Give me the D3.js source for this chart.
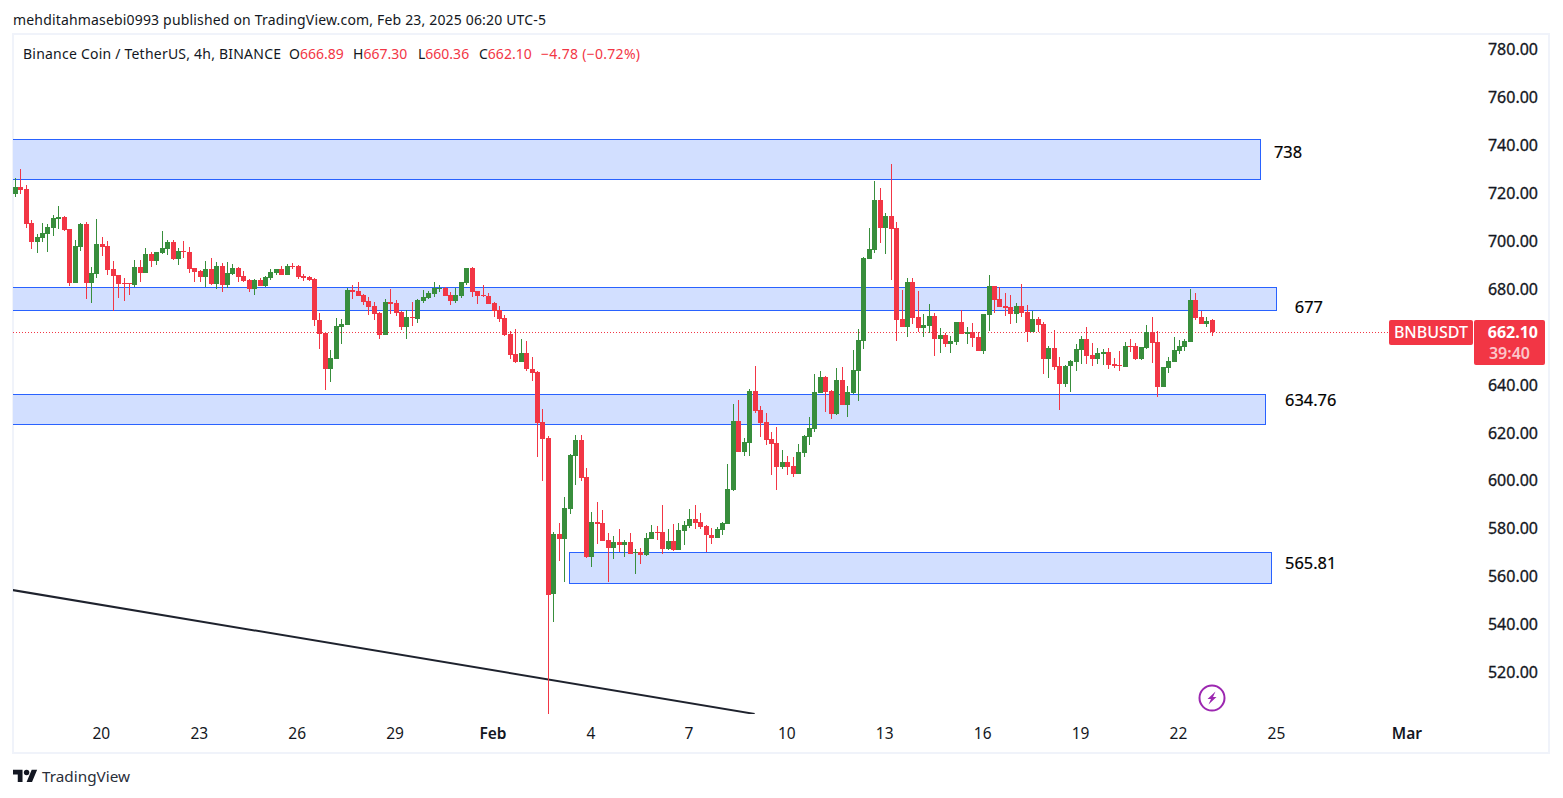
<!DOCTYPE html>
<html><head><meta charset="utf-8">
<script src="https://cdnjs.cloudflare.com/ajax/libs/d3/7.8.5/d3.min.js"></script>
<style>
html,body{margin:0;padding:0;background:#fff}
svg{display:block}
text{font-family:"Noto Sans","Open Sans",sans-serif}
</style></head><body>
<svg id="c" width="1563" height="798"></svg>
<script>
const opens=[719.5,722.4,721.6,707.4,699.5,701.1,702.8,705.3,709,709.9,
704.9,682.4,697.4,707,682.4,686.1,698.6,697.8,688.2,685.7,
682.4,682.3,681.5,689,686.5,694.5,691.5,694.9,696.5,699.5,
692.4,695.7,695.3,688.6,687.4,684.9,688.2,682,689.4,681.5,
686.1,688.6,685.3,683.6,679.8,683.6,681.1,684.4,686.5,688.2,
685.7,689.4,689.4,685.3,684.8,684,666.9,661.5,646.4,650.6,
664,664.8,679.4,679,677.3,674.8,672.7,669.8,660.6,674.4,
674,670.2,664,668.1,667.3,674.8,676,677.7,679.8,680.2,
677.3,674.8,676.9,682.3,688.6,679,677.3,676.9,674,671,
667.7,661,652.7,649.4,653.1,646.4,645.2,624.3,617.6,552.5,
577.6,575.5,588,610.1,616.8,601.4,568,582.6,582.2,575.1,
571.7,574.2,573,574.2,569.6,570,568.8,575.5,578.4,578.4,
571.3,574.7,570.9,578.8,580.9,583.8,582.6,580.9,577.2,575.9,
579.3,581.8,596,624.7,611.8,615.6,637.3,629.3,624.3,617.2,
615.6,605.5,607.6,606,602.6,611.4,618.1,621.4,636.4,643.1,
637.3,627.7,641.8,631.4,636.4,645.6,658.1,692.4,696.1,717,
705.3,710.3,705.3,667.3,664,682.8,668.1,663.6,664.4,668.6,
659,660.6,656.9,657.7,666,661,661.9,659.8,654,669,
681.1,675.7,672.7,672.3,669.4,672.7,670.2,661.9,667.3,665.2,
650.6,655.2,647.7,640.2,647.7,649.4,654.4,659,652.3,650.6,
652.7,653.5,648.5,648.1,647.3,656,656,650.6,655.2,661.9,
657.7,638.9,646.9,649.4,653.9,655.6,657.7,675.2,668.1,665.2,
666.89];
const closes=[722.4,721.2,707,699.5,701.5,703.2,705.7,709.5,709.9,704.5,
682.4,697.8,707,682.4,686.5,698.6,697.4,687.8,685.3,682,
682,682,689,686.5,694.5,691.5,695.3,697,699.5,692.4,
695.7,695.3,688.2,687,684.9,688.2,682,689.4,681.5,686.5,
688.6,684.9,683.2,679.8,683.6,681.1,684.9,686.9,688.2,685.7,
689.4,689,684.8,684.4,683.6,666.9,661,646.4,651,664.4,
665.2,679.4,678.6,676.9,674.4,672.3,669.4,660.6,674.4,673.6,
669.8,664,668.1,667.7,675.2,676.5,678.2,680.2,680.2,676.9,
674.8,677.3,682.8,688.6,678.6,676.9,676.9,673.6,670.6,667.3,
660.6,652.3,649.4,653.1,646.4,644.8,623.9,617.2,552.1,577.6,
575.5,588.4,610.6,616.8,601,568,582.6,581.8,574.7,571.7,
574.2,573,574.2,569.2,570,568.8,575.9,578.4,578,571.3,
574.7,570.9,579.3,581.3,583.8,582.2,580.5,577.2,575.9,579.7,
582.2,596.4,624.7,611.8,616,637.3,628.9,623.9,616.8,615.1,
605.5,607.6,605.5,602.6,611.8,618.5,621.8,636.8,643.1,636.8,
627.7,641.8,631.4,636.8,646,658.6,692.8,696.5,717,705.3,
710.3,704.9,666.9,664,682.8,667.7,663.6,664.8,668.6,659,
660.6,656.9,658.1,666,661,661.9,659.4,654,669.4,681.1,
675.2,672.3,671.9,669.4,672.7,669.8,661.9,667.3,664.8,650.6,
655.2,647.3,640.2,647.7,649.8,654.8,659,651.9,650.6,653.1,
653.5,648.1,647.7,647.7,656,655.6,650.6,655.6,661.9,657.3,
638.9,647.3,649.8,654.4,656,658.1,675.2,667.7,665.2,666.5,
662.10];
const highs=[726.2,729.9,723.2,708.6,702.8,707.4,707,710.7,714.5,710.3,
704.9,700.3,707.4,707.8,689,709,701.5,699.9,691.5,685.7,
684.4,682.4,692,692,697,695.3,695.3,704,700.3,700.3,
697,699.9,697.4,688.6,687.8,691.5,692.8,691.1,690.7,691.1,
690.3,689,687.4,684,684,684.4,685.3,688.2,688.2,689.4,
690.3,690.7,689.8,686.1,685.3,684.4,669.8,661.5,654.4,667.7,
667.3,680.2,681.5,682.8,677.7,676.5,674.4,670.2,675.7,679.8,
675.2,670.6,671,674.4,675.6,679.4,679,682.8,681.5,680.7,
678.6,680.2,682.8,688.6,689,679,681.5,678.2,674.4,672.7,
669,662.3,663.1,659,658.1,651.4,645.6,629.8,618.5,578.4,
582.2,593,611,618.9,618.9,605.1,586.8,591,587.6,578,
576.8,579.7,575.1,578,571.3,571.7,578,581.3,580.9,589.7,
579.7,581.8,582.2,583,588,589.7,586.3,581.3,580.1,580.5,
582.6,606.8,631.8,633.5,617.6,638.1,647.7,631,628.1,620.2,
622.2,612.6,610.1,609.7,615.1,618.9,626.4,644.4,645.6,643.5,
637.7,646.9,647.3,639.4,654.4,663.1,693.2,705.3,724.9,722,
711.6,732,707.8,679.4,684.4,684.4,679,669.4,673.6,669.8,
663.6,661.5,660.2,666,671,664,665.6,661.9,669.4,685.7,
681.1,680.7,678.2,677.3,674,681.9,673.2,670.7,668.1,666,
656,662.7,651.4,648.1,650.2,656.9,660.2,664,657.3,655.2,
654.8,655.2,651,654,657.7,659,657.3,655.6,664.8,668.1,
662.3,647.3,651.4,659.8,658.5,658.9,679.8,678.2,670.7,668.1,
667.30];
const lows=[718.2,719.5,705.3,696.5,694.9,699.5,695.3,702,704.9,704,
681.1,682.4,695.7,675.7,674,684.4,693.6,685.7,670.8,676.1,
674.9,677.4,680.7,682.8,686.5,689,689.9,694.4,694,692,
689.9,692.8,686.5,682.8,682.8,680.7,681.5,679.8,678.6,680.3,
685.7,682.8,682.8,678.6,677.4,681.1,680.7,683.6,685.7,685.7,
685.7,688.2,684,683.2,683.2,664.4,654.8,637.7,641,650.6,
656.9,664.8,675.7,676.9,673.2,669,666.9,659,660.6,669.4,
668.6,662.7,659,664.4,665.6,674,675.7,676.5,678.6,676.9,
673.2,674,676.1,681.5,676.5,673.6,676.5,673.6,668.1,666,
660.2,650.6,649,649.4,645.6,641.4,609.7,599.7,502.5,540.9,
566.3,557.5,586,598,599.7,567.6,563.8,573.4,574.7,557.5,
567.2,570,568,569.2,560.9,565,568.4,575.5,575.1,569.2,
570.9,570.5,570.9,573,580.1,579.7,579.7,570,573.4,575.9,
577.2,581.8,595.5,611.8,610.1,610.1,628.1,618.1,614.7,602.2,
595.9,604.7,602.2,601.4,602.6,609.7,614.7,620.2,636.4,628.5,
625.6,627.3,631.4,626.4,636,633.1,654.8,692.4,694.9,699,
694.4,683.6,658.1,664,659.8,665.2,661.9,659.8,661.5,651.9,
653.1,655.6,653.1,656.5,661,656.9,655.6,654,652.7,662.3,
669.8,672.3,668.6,665.2,665.6,668.1,657.7,661.9,661.9,644.4,
642.7,646,629.3,638.9,636.8,645.6,648.5,648.5,647.7,648.5,
648.1,646.4,646.9,645.6,647.3,653.5,650.2,650.2,654.8,649,
634.8,638.9,644.8,649.4,652.7,654,657.7,666.9,665.2,664,
660.36];

const zoneStart=[-3,-3,-3,101.8];
const zoneEnd=[228.9,231.8,229.8,230.9];
const zoneTop=[742.2,680.5,636,569.9];
const zoneBottom=[725.5,670.9,623.3,557];
const zoneLabels=["738","677","634.76","565.81"];
const zoneLabelBars=[231.47,235.3,233.5,233.5];
const zoneLabelPrices=[737,672.3,633.5,565.5];
const trendBars=[-0.4,136];
const trendPrices=[554.2,502.5];
const priceTicks=[520,540,560,580,600,620,640,680,700,720,740,760,780];
const timeBars=[16,34,52,70,88,106,124,142,160,178,196,214,232,256];
const timeLabels=["20","23","26","29","Feb","4","7","10","13","16","19","22","25","Mar"];
const lastPrice=662.10;
const symbol="BNBUSDT", countdown="39:40";
const publishLine="mehditahmasebi0993 published on TradingView.com, Feb 23, 2025 06:20 UTC-5";
const titleLine="Binance Coin / TetherUS, 4h, BINANCE";
const ohlcLetters=["O","H","L","C"];
const ohlcValues=["666.89","667.30","660.36","662.10"];
const changeText="\u22124.78 (\u22120.72%)";

const RED="#f23645",GREEN="#388e3c",BLUE="#2962ff",ZONE="#d2dfff",INK="#131722";
const svg=d3.select("#c");
const x=d3.scaleLinear().domain([0,220]).range([14.8,1211.6]);
const y=d3.scaleLinear().domain([520,780]).range([672,49]);

svg.append("rect").attr("x",13).attr("y",34).attr("width",1536).attr("height",719)
  .attr("fill","#fff").attr("stroke","#f0f3fa").attr("stroke-width",2);

const clip=svg.append("defs").append("clipPath").attr("id","pane");
clip.append("rect").attr("x",13).attr("y",35).attr("width",1376).attr("height",679);
const plot=svg.append("g").attr("clip-path","url(#pane)");

plot.selectAll("rect.zone").data(zoneTop).join("rect").attr("class","zone")
  .attr("x",(d,i)=>Math.round(x(zoneStart[i]))+.5)
  .attr("y",d=>Math.floor(y(d))+.5)
  .attr("width",(d,i)=>Math.round(x(zoneEnd[i]))-Math.round(x(zoneStart[i])))
  .attr("height",(d,i)=>Math.floor(y(zoneBottom[i]))-Math.floor(y(d)))
  .attr("fill",ZONE).attr("stroke",BLUE).attr("stroke-width",1);

plot.append("line").attr("x1",13).attr("x2",1389)
  .attr("y1",Math.round(y(lastPrice))+.5).attr("y2",Math.round(y(lastPrice))+.5)
  .attr("stroke",RED).attr("stroke-width",1).attr("stroke-dasharray","1 2");

plot.append("line").attr("x1",x(trendBars[0])).attr("x2",x(trendBars[1]))
  .attr("y1",y(trendPrices[0])).attr("y2",y(trendPrices[1]))
  .attr("stroke","#1e222d").attr("stroke-width",2);

const idx=d3.range(opens.length);
const col=i=>closes[i]>=opens[i]?GREEN:RED;
const cx=i=>Math.round(x(i));
plot.selectAll("rect.wick").data(idx).join("rect").attr("class","wick")
  .attr("x",i=>cx(i)).attr("width",1)
  .attr("y",i=>y(highs[i])).attr("height",i=>y(lows[i])-y(highs[i]))
  .attr("fill",col).attr("shape-rendering","crispEdges");
plot.selectAll("rect.body").data(idx).join("rect").attr("class","body")
  .attr("x",i=>cx(i)-2).attr("width",5)
  .attr("y",i=>y(Math.max(opens[i],closes[i])))
  .attr("height",i=>Math.max(1,Math.abs(y(opens[i])-y(closes[i]))))
  .attr("fill",col).attr("shape-rendering","crispEdges");

svg.selectAll("text.zl").data(zoneLabels).join("text").attr("class","zl")
  .attr("x",(d,i)=>x(zoneLabelBars[i]))
  .attr("y",(d,i)=>y(zoneLabelPrices[i])).attr("dy","0.36em")
  .attr("font-size",16.4).attr("fill","#000").attr("stroke","#000").attr("stroke-width",.2).text(d=>d);

const ya=svg.append("g").attr("transform","translate(1538,0.5)")
  .call(d3.axisRight(y).tickValues(priceTicks).tickSize(0).tickFormat(d3.format(".2f")));
ya.select(".domain").remove();
ya.selectAll("text").attr("x",0).attr("text-anchor","end")
  .attr("font-size",16).attr("font-family",null).attr("fill",INK).attr("stroke",INK).attr("stroke-width",.3);

const xa=svg.append("g").attr("transform","translate(0,734)")
  .call(d3.axisBottom(x).tickValues(timeBars).tickSize(0).tickFormat((d,i)=>timeLabels[i]));
xa.select(".domain").remove();
xa.selectAll("text").attr("y",0).attr("dy","0.35em").attr("dx",-1)
  .attr("font-size",15.5).attr("font-family",null).attr("fill",INK)
  .attr("font-weight",d=>(d===88||d===256)?600:400);

svg.append("rect").attr("x",1389).attr("y",320).attr("width",84).attr("height",25).attr("rx",2).attr("fill",RED);
svg.append("rect").attr("x",1474).attr("y",320).attr("width",71).attr("height",45).attr("rx",2).attr("fill",RED);
svg.append("text").attr("x",1431).attr("y",338).attr("text-anchor","middle").attr("font-size",16).attr("fill","#fff").attr("font-weight",500).text(symbol);
svg.append("text").attr("x",1538).attr("y",338).attr("text-anchor","end").attr("font-size",16).attr("fill","#fff").attr("font-weight",700).text(d3.format(".2f")(lastPrice));
svg.append("text").attr("x",1530).attr("y",358.5).attr("text-anchor","end").attr("font-size",16).attr("font-weight",600).attr("fill","#fff").attr("fill-opacity",.72).text(countdown);

svg.append("text").attr("x",13).attr("y",25).attr("font-size",14).attr("fill",INK)
  .attr("textLength",533).attr("lengthAdjust","spacing").text(publishLine);
svg.append("text").attr("x",23).attr("y",59).attr("font-size",14).attr("fill",INK)
  .attr("textLength",258).attr("lengthAdjust","spacing").text(titleLine);
const ohlcX=[289,353,418,479];
ohlcLetters.forEach((l,i)=>{
  const t=svg.append("text").attr("x",ohlcX[i]).attr("y",59).attr("font-size",14).attr("fill",INK).text(l);
  t.append("tspan").attr("fill",RED).text(ohlcValues[i]);
});
svg.append("text").attr("x",541).attr("y",59).attr("font-size",14).attr("fill",RED)
  .attr("textLength",99).attr("lengthAdjust","spacing").text(changeText);

const badge=svg.append("g").attr("transform","translate(1212,698)");
badge.append("circle").attr("r",12.5).attr("fill","#fff").attr("stroke","#9c27b0").attr("stroke-width",2);
badge.append("path").attr("d","M3.5-6.5L-4.5 1H-1L-3.5 6.5L4.5-1H1Z").attr("fill","#9c27b0");

const logo=svg.append("g").attr("transform","translate(13,767) scale(.68)");
logo.append("path").attr("d","M14 22H7V11H0V4h14v18zM28 22h-8l7.5-18h8L28 22z").attr("fill",INK);
logo.append("circle").attr("cx",20).attr("cy",8).attr("r",4).attr("fill",INK);
svg.append("text").attr("x",42).attr("y",782).attr("font-size",15.3).attr("fill","#2a2e39").text("TradingView");
</script>
</body></html>
